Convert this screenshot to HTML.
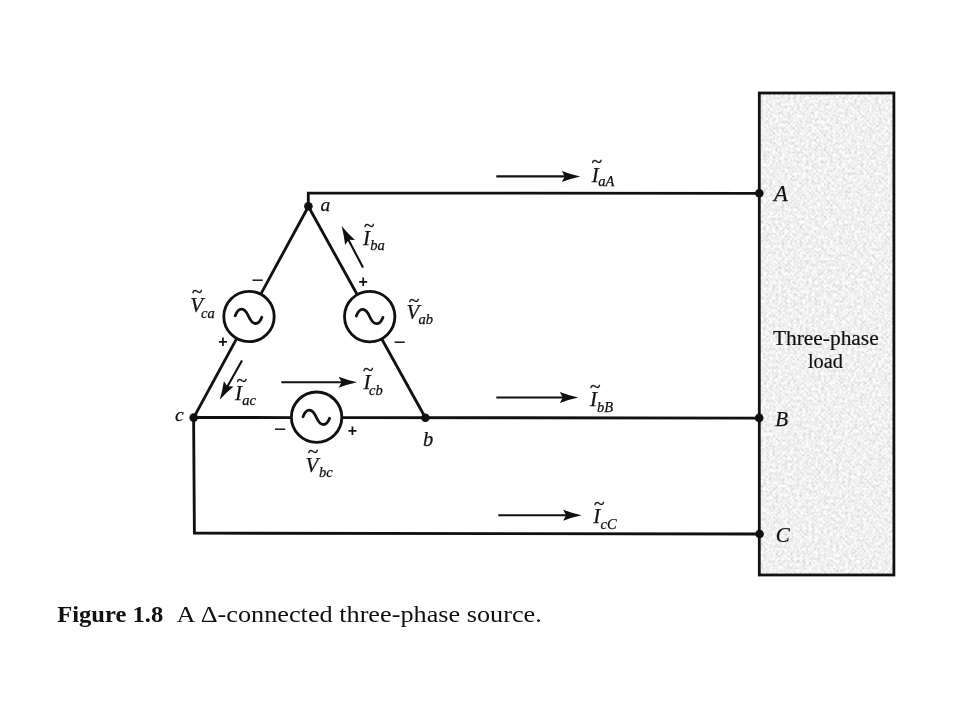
<!DOCTYPE html>
<html><head><meta charset="utf-8"><title>Figure 1.8</title>
<style>
html,body{margin:0;padding:0;background:#fff;}
body{width:960px;height:720px;overflow:hidden;position:relative;font-family:"Liberation Serif",serif;color:#111;}
svg{position:absolute;left:0;top:0;will-change:transform;}
svg text{font-family:"Liberation Serif",serif;fill:#111;}
.it{font-style:italic;font-size:21px;stroke:#111;stroke-width:0.25px;}
.sub{font-style:italic;font-size:14.5px;stroke:#111;stroke-width:0.25px;}
.tl{font-size:19.5px;stroke:#111;stroke-width:0.35px;}
.pl{font-family:"Liberation Sans",sans-serif;font-size:16px;font-weight:bold;}
.mi{font-family:"Liberation Sans",sans-serif;font-size:21px;}
.w{stroke:#111;stroke-width:2.85;fill:none;stroke-linecap:butt;stroke-linejoin:miter;}
.ar{stroke:#111;stroke-width:2.1;fill:none;}
</style></head><body>
<svg width="960" height="720" viewBox="0 0 960 720">
<defs>
<filter id="nz" x="0" y="0" width="100%" height="100%" color-interpolation-filters="sRGB">
<feTurbulence type="fractalNoise" baseFrequency="0.33" numOctaves="2" seed="3" result="t"/>
<feColorMatrix type="matrix" values="0.3 0 0 0 0.772  0.3 0 0 0 0.772  0.3 0 0 0 0.772  0 0 0 0 1"/>
</filter>
<pattern id="hx" width="3.4" height="3.4" patternUnits="userSpaceOnUse" patternTransform="rotate(45)">
<path d="M0,0.6 H3.4 M0.6,0 V3.4" stroke="#fff" stroke-width="1.1" opacity="0.45"/>
</pattern>
<path id="ah" d="M0.3,0 Q-9,-2 -18.2,-5.5 L-15.2,0 L-18.2,5.5 Q-9,2 0.3,0 Z" fill="#111"/>
<path id="sine" d="M-13.3,-0.5 C-10,-9.6 -4,-9.3 0,0 C4,9.3 10,9.6 13.3,0.9" class="w" style="stroke-width:2.8;stroke-linecap:round"/>
</defs>
<!-- load box -->
<rect x="759.3" y="93" width="134.6" height="482" fill="#ebebeb" filter="url(#nz)"/>
<rect x="759.3" y="93" width="134.6" height="482" fill="url(#hx)"/>
<rect x="759.3" y="93" width="134.6" height="482" class="w" style="stroke-width:2.8"/>
<!-- wires -->
<path class="w" d="M308.3,207 V193.1 L759,193.3"/>
<path class="w" d="M193.7,417.5 L291,417.55 M342,417.6 L759,418.05"/>
<path class="w" d="M193.6,417.5 L194.4,533.2 L759,534"/>
<path class="w" d="M308.4,206.5 L193.7,417.6"/>
<path class="w" d="M308.4,206.5 L425.4,417.7"/>
<!-- sources -->
<circle cx="249" cy="316.5" r="25.2" class="w" style="fill:#fff"/>
<circle cx="369.7" cy="316.6" r="25.2" class="w" style="fill:#fff"/>
<circle cx="316.6" cy="417.2" r="25.2" class="w" style="fill:#fff"/>
<use href="#sine" x="248.5" y="316.3"/>
<use href="#sine" x="369.6" y="316.5"/>
<use href="#sine" x="316.3" y="417.3"/>
<!-- nodes -->
<circle cx="308.4" cy="206.3" r="4.3" fill="#111"/>
<circle cx="193.7" cy="417.6" r="4.3" fill="#111"/>
<circle cx="425.4" cy="417.7" r="4.3" fill="#111"/>
<circle cx="759.3" cy="193.3" r="4.3" fill="#111"/>
<circle cx="759.2" cy="417.9" r="4.3" fill="#111"/>
<circle cx="759.6" cy="534" r="4.3" fill="#111"/>
<!-- arrows -->
<path class="ar" d="M496.3,176.4 H568"/><use href="#ah" transform="translate(580,176.4)"/>
<path class="ar" d="M496.3,397.5 H566"/><use href="#ah" transform="translate(578,397.5)"/>
<path class="ar" d="M498.3,515.3 H569"/><use href="#ah" transform="translate(581.3,515.3)"/>
<path class="ar" d="M281.3,382.2 H345"/><use href="#ah" transform="translate(356.8,382.2)"/>
<path class="ar" d="M363,267.6 L347,237"/><use href="#ah" transform="translate(341.7,226.3) rotate(-117.3)"/>
<path class="ar" d="M242,360.5 L226,389"/><use href="#ah" transform="translate(219.8,399.6) rotate(119.3)"/>
<!-- labels -->
<text class="it" x="320.6" y="210.8" style="font-size:19.5px">a</text>
<text class="it" x="175.1" y="421.2" style="font-size:19.5px">c</text>
<text class="it" x="423" y="446.2" style="font-size:20.5px">b</text>
<text class="it" x="774" y="200.8" style="font-size:22.5px">A</text>
<text class="it" x="775.2" y="426">B</text>
<text class="it" x="775.7" y="542">C</text>
<g transform="translate(363.0,245.0)"><text class="it">I</text><text class="sub" x="7.3" y="5.0">ba</text><text class="tl" x="0.9" y="-12.7">~</text></g>
<g transform="translate(235.0,399.7)"><text class="it">I</text><text class="sub" x="7.3" y="5.3">ac</text><text class="tl" x="1.4" y="-12.9">~</text></g>
<g transform="translate(363.5,389.2)"><text class="it">I</text><text class="sub" x="5.6" y="6.0">cb</text><text class="tl" x="-0.4" y="-12.9">~</text></g>
<g transform="translate(591.7,181.7)"><text class="it">I</text><text class="sub" x="6.6" y="4.6">aA</text><text class="tl" x="-0.1" y="-13.7">~</text></g>
<g transform="translate(590.0,405.8)"><text class="it">I</text><text class="sub" x="7.0" y="5.9">bB</text><text class="tl" x="-0.1" y="-12.8">~</text></g>
<g transform="translate(593.3,523.0)"><text class="it">I</text><text class="sub" x="7.3" y="5.9">cC</text><text class="tl" x="0.8" y="-13.0">~</text></g>
<g transform="translate(190.2,312.0)"><text class="it">V</text><text class="sub" x="10.8" y="5.7">ca</text><text class="tl" x="1.9" y="-14.0">~</text></g>
<g transform="translate(406.5,319.2)"><text class="it">V</text><text class="sub" x="11.9" y="4.8">ab</text><text class="tl" x="2.3" y="-12.4">~</text></g>
<g transform="translate(305.5,471.7)"><text class="it">V</text><text class="sub" x="13.5" y="5.4">bc</text><text class="tl" x="2.2" y="-14.0">~</text></g>
<!-- signs -->
<text class="mi" x="251.4" y="286.9">−</text>
<text class="pl" x="218.2" y="346.6">+</text>
<text class="pl" x="358.6" y="287.0">+</text>
<text class="mi" x="393.5" y="348.9">−</text>
<text class="mi" x="274.1" y="435.9">−</text>
<text class="pl" x="347.8" y="436.3">+</text>
<text x="772.9" y="344.7" style="font-size:20.5px;stroke:#111;stroke-width:0.2px" textLength="105.8" lengthAdjust="spacingAndGlyphs">Three-phase</text>
<text x="807.9" y="368.4" style="font-size:20.5px;stroke:#111;stroke-width:0.2px" textLength="35" lengthAdjust="spacingAndGlyphs">load</text>
<text x="57.2" y="622.4" style="font-size:23px;font-weight:bold" textLength="106" lengthAdjust="spacingAndGlyphs">Figure 1.8</text>
<text x="176.6" y="622.4" style="font-size:23px" textLength="365.2" lengthAdjust="spacingAndGlyphs">A Δ-connected three-phase source.</text>
</svg>
</body></html>
